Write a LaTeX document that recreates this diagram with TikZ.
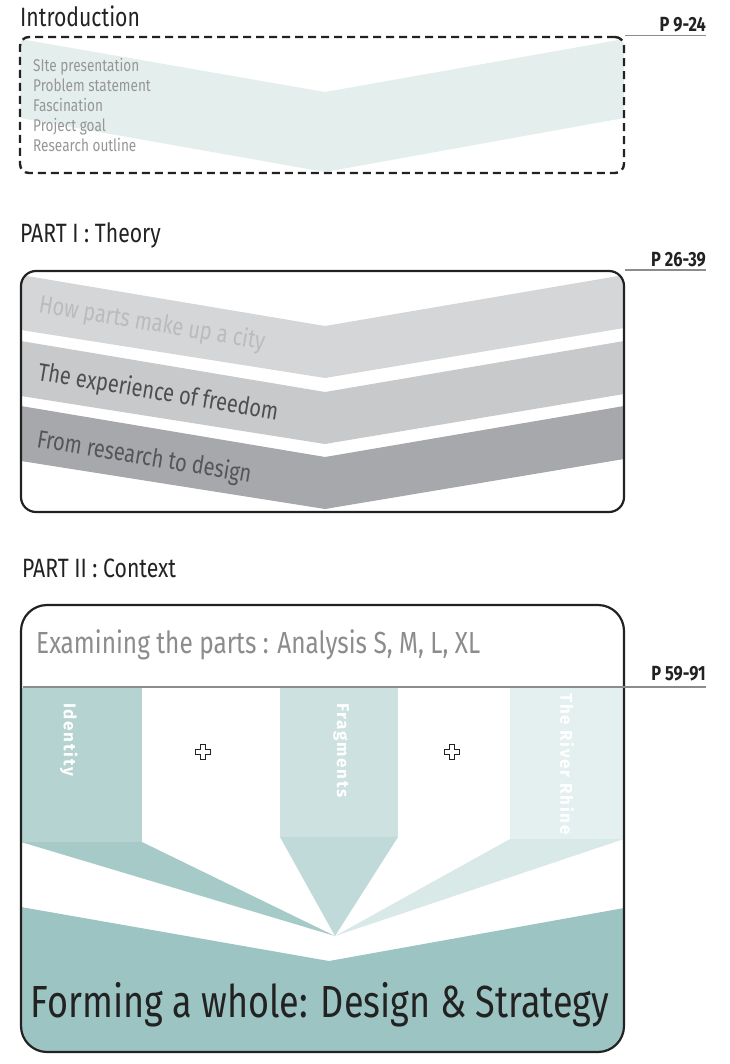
\documentclass[tikz,border=0pt]{standalone}
\usepackage{fontspec}
\setmainfont{Fira Sans}[FakeStretch=0.8]
\newfontfamily\barfont{Fira Sans}[LetterSpace=10]
\usetikzlibrary{positioning}
\definecolor{inkDark}{RGB}{34, 34, 34}
\definecolor{lineGrey}{RGB}{140, 140, 140}
\definecolor{itemGrey}{RGB}{150, 150, 150}
\definecolor{introFill}{RGB}{228, 239, 237}
\definecolor{greyA}{RGB}{213, 214, 216}
\definecolor{greyB}{RGB}{200, 201, 203}
\definecolor{greyC}{RGB}{167, 168, 171}
\definecolor{greyTextA}{RGB}{186, 187, 189}
\definecolor{greyTextB}{RGB}{78, 78, 80}
\definecolor{greyTextC}{RGB}{85, 85, 87}
\definecolor{tealA}{RGB}{181, 211, 209}
\definecolor{tealATail}{RGB}{166, 202, 199}
\definecolor{tealB}{RGB}{205, 225, 224}
\definecolor{tealBTail}{RGB}{192, 218, 217}
\definecolor{tealC}{RGB}{228, 240, 239}
\definecolor{tealCTail}{RGB}{216, 233, 232}
\definecolor{tealD}{RGB}{156, 196, 194}

\tikzset{
  heading/.style={anchor=base west, inner sep=0pt, text=inkDark, font=\fontsize{26.5}{30}\selectfont},
  pagenum/.style={anchor=base east, inner sep=0pt, text=inkDark, font=\bfseries\fontsize{20.5}{22}\selectfont},
  pageline/.style={draw=lineGrey, line width=1.3pt},
  frame/.style={draw=inkDark, line width=2.2pt, inner sep=0pt},
  dashedframe/.style={draw=inkDark, line width=2.4pt, dash pattern=on 8pt off 5pt, rounded corners=9pt, inner sep=0pt},
  introitem/.style={anchor=base west, inner sep=0pt, text=itemGrey, font=\fontsize{17}{20}\selectfont},
  slanted/.style={anchor=base west, inner sep=0pt, rotate=-9.5, font=\fontsize{25}{28}\selectfont},
  barlabel/.style={anchor=west, inner sep=0pt, rotate=-90, text=white, font=\barfont\bfseries\fontsize{17}{20}\selectfont},
  plusmark/.style={draw=inkDark, fill=white, line width=0.9pt}
}

\begin{document}
\begin{tikzpicture}[x=1pt, y=-1pt]
\useasboundingbox (0,0) rectangle (729,1064);

% Introduction
\node[heading] (introTitle) at (20,27) {Introduction};
\node[pagenum] (introPage) at (706,32) {P 9-24};
\begin{scope}
  \clip[rounded corners=9pt] (20,37) rectangle (624,173);
  \fill[introFill] (20,39) -- (325,92) -- (624,39) -- (624,118) -- (325,172) -- (20,118) -- cycle;
\end{scope}
\node[dashedframe, minimum width=604pt, minimum height=136pt] (introBox) at (322,105) {};
\draw[pageline] (introBox.north east) -- (introBox.north east -| introPage.east);
\foreach \item [count=\i] in {SIte presentation, Problem statement, Fascination, Project goal, Research outline}
  \node[introitem] (item\i) at (33,{52+20*\i}) {\item};

% Part I
\node[heading] (theoryTitle) at (20,243) {PART I : Theory};
\node[pagenum] (theoryPage) at (706,267) {P 26-39};
\begin{scope}
  \clip[rounded corners=15pt] (21,271) rectangle (624,512);
  \foreach \dy/\shade in {0/greyA, 66/greyB, 131/greyC}
    \fill[\shade] (21,{275+\dy}) -- (325,{326+\dy}) -- (624,{275+\dy}) -- (624,{328+\dy}) -- (325,{378+\dy}) -- (21,{330+\dy}) -- cycle;
\end{scope}
\node[frame, rounded corners=15pt, minimum width=603pt, minimum height=241pt] (theoryBox) at (322.5,391.5) {};
\draw[pageline] (theoryBox.north east) -- (theoryBox.north east -| theoryPage.east);
\node[slanted, text=greyTextA] (partsText) at (38,312) {How parts make up a city};
\node[slanted, text=greyTextB] (freedomText) at (37,380) {The experience of freedom};
\node[slanted, text=greyTextC] (designText) at (36,447) {From research to design};

% Part II
\node[heading] (contextTitle) at (22,577) {PART II : Context};
\node[pagenum] (contextPage) at (706,680) {P 59-91};
\coordinate (focus) at (335,936);
\begin{scope}
  \clip[rounded corners=26pt] (21,605) rectangle (624,1052);
  \fill[tealA] (21,688) rectangle (142,842);
  \fill[tealATail] (21,842) -- (142,842) -- (focus) -- cycle;
  \fill[tealB] (280,688) rectangle (398,837);
  \fill[tealBTail] (280,837) -- (398,837) -- (focus) -- cycle;
  \fill[tealC] (510,688) rectangle (624,839);
  \fill[tealCTail] (510,839) -- (624,839) -- (focus) -- cycle;
  \fill[tealD] (21,907) -- (329,961) -- (624,908) -- (624,1052) -- (21,1052) -- cycle;
\end{scope}
\node[frame, rounded corners=26pt, minimum width=603pt, minimum height=447pt] (contextBox) at (322.5,828.5) {};
\node[anchor=base west, inner sep=0pt, text=lineGrey, font=\fontsize{30.5}{34}\selectfont] (analysisText) at (36,653) {Examining the parts : Analysis S, M, L, XL};
\coordinate (splitLeft) at (23,687);
\draw[pageline] (splitLeft) -- (splitLeft -| contextPage.east);
\node[barlabel] (identityLabel) at (69,703) {Identity};
\node[barlabel] (fragmentsLabel) at (341,703) {Fragments};
\node[barlabel] (rhineLabel) at (567,693) {The River Rhine};
\foreach \px in {203,452}
  \draw[plusmark] (\px,752) ++(-2.5,-7.5) -- ++(5,0) -- ++(0,5) -- ++(5,0) -- ++(0,5) -- ++(-5,0) -- ++(0,5) -- ++(-5,0) -- ++(0,-5) -- ++(-5,0) -- ++(0,-5) -- ++(5,0) -- cycle;
\node[anchor=base, inner sep=0pt, text=inkDark, font=\fontsize{45}{50}\selectfont] (wholeText) at (320,1017) {Forming a whole: Design \& Strategy};
\end{tikzpicture}
\end{document}
